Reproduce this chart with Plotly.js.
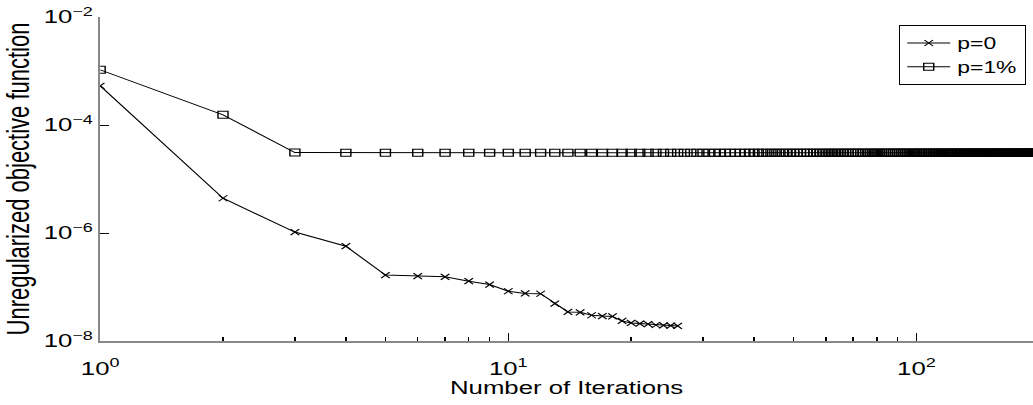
<!DOCTYPE html>
<html>
<head>
<meta charset="utf-8">
<script src="https://cdn.plot.ly/plotly-3.0.1.min.js"></script>
<style>
  html, body { margin: 0; padding: 0; background: #fff; overflow: hidden; }
  #chart { width: 722px; height: 405px; transform: scaleX(1.43075); transform-origin: 0 0; }
</style>
</head>
<body>
<div id="chart"></div>
<script>
// Series names
const seriesNames = ["p=0", "p=1%"];

// Unregularized objective function, iterations start at 1
const valuesP0 = [5.3e-4, 4.4e-6, 1.04e-6, 5.7e-7, 1.66e-7, 1.59e-7, 1.54e-7, 1.28e-7, 1.11e-7, 8.35e-8,
  7.6e-8, 7.5e-8, 4.94e-8, 3.45e-8, 3.4e-8, 3.0e-8, 2.9e-8, 2.85e-8, 2.35e-8, 2.16e-8,
  2.1e-8, 2.05e-8, 1.98e-8, 1.95e-8, 1.92e-8, 1.9e-8];

const valuesP1 = [1.05e-3, 1.54e-4, 3.08e-5,
  3.05e-5, 3.05e-5, 3.05e-5, 3.05e-5, 3.05e-5, 3.05e-5, 3.05e-5, 3.05e-5, 3.05e-5, 3.05e-5,
  3.05e-5, 3.05e-5, 3.05e-5, 3.05e-5, 3.05e-5, 3.05e-5, 3.05e-5, 3.05e-5, 3.05e-5, 3.05e-5,
  3.05e-5, 3.05e-5, 3.05e-5, 3.05e-5, 3.05e-5, 3.05e-5, 3.05e-5, 3.05e-5, 3.05e-5, 3.05e-5,
  3.05e-5, 3.05e-5, 3.05e-5, 3.05e-5, 3.05e-5, 3.05e-5, 3.05e-5, 3.05e-5, 3.05e-5, 3.05e-5,
  3.05e-5, 3.05e-5, 3.05e-5, 3.05e-5, 3.05e-5, 3.05e-5, 3.05e-5, 3.05e-5, 3.05e-5, 3.05e-5,
  3.05e-5, 3.05e-5, 3.05e-5, 3.05e-5, 3.05e-5, 3.05e-5, 3.05e-5, 3.05e-5, 3.05e-5, 3.05e-5,
  3.05e-5, 3.05e-5, 3.05e-5, 3.05e-5, 3.05e-5, 3.05e-5, 3.05e-5, 3.05e-5, 3.05e-5, 3.05e-5,
  3.05e-5, 3.05e-5, 3.05e-5, 3.05e-5, 3.05e-5, 3.05e-5, 3.05e-5, 3.05e-5, 3.05e-5, 3.05e-5,
  3.05e-5, 3.05e-5, 3.05e-5, 3.05e-5, 3.05e-5, 3.05e-5, 3.05e-5, 3.05e-5, 3.05e-5, 3.05e-5,
  3.05e-5, 3.05e-5, 3.05e-5, 3.05e-5, 3.05e-5, 3.05e-5, 3.05e-5, 3.05e-5, 3.05e-5, 3.05e-5,
  3.05e-5, 3.05e-5, 3.05e-5, 3.05e-5, 3.05e-5, 3.05e-5, 3.05e-5, 3.05e-5, 3.05e-5, 3.05e-5,
  3.05e-5, 3.05e-5, 3.05e-5, 3.05e-5, 3.05e-5, 3.05e-5, 3.05e-5, 3.05e-5, 3.05e-5, 3.05e-5,
  3.05e-5, 3.05e-5, 3.05e-5, 3.05e-5, 3.05e-5, 3.05e-5, 3.05e-5, 3.05e-5, 3.05e-5, 3.05e-5,
  3.05e-5, 3.05e-5, 3.05e-5, 3.05e-5, 3.05e-5, 3.05e-5, 3.05e-5, 3.05e-5, 3.05e-5, 3.05e-5,
  3.05e-5, 3.05e-5, 3.05e-5, 3.05e-5, 3.05e-5, 3.05e-5, 3.05e-5, 3.05e-5, 3.05e-5, 3.05e-5,
  3.05e-5, 3.05e-5, 3.05e-5, 3.05e-5, 3.05e-5, 3.05e-5, 3.05e-5, 3.05e-5, 3.05e-5, 3.05e-5,
  3.05e-5, 3.05e-5, 3.05e-5, 3.05e-5, 3.05e-5, 3.05e-5, 3.05e-5, 3.05e-5, 3.05e-5, 3.05e-5,
  3.05e-5, 3.05e-5, 3.05e-5, 3.05e-5, 3.05e-5, 3.05e-5, 3.05e-5, 3.05e-5, 3.05e-5, 3.05e-5,
  3.05e-5, 3.05e-5, 3.05e-5, 3.05e-5, 3.05e-5, 3.05e-5, 3.05e-5, 3.05e-5, 3.05e-5, 3.05e-5,
  3.05e-5, 3.05e-5, 3.05e-5, 3.05e-5, 3.05e-5, 3.05e-5, 3.05e-5];

// Axis ticks and labels
const xTickVals = [1, 10, 100];
const xTickText = ["10<sup>0</sup>", "10<sup>1</sup>", "10<sup>2</sup>"];
const xMinorTicks = [2, 3, 4, 5, 6, 7, 8, 9, 20, 30, 40, 50, 60, 70, 80, 90];
const yTickVals = [1e-8, 1e-6, 1e-4, 1e-2];
const yTickText = ["10<sup>\u22128</sup>", "10<sup>\u22126</sup>", "10<sup>\u22124</sup>", "10<sup>\u22122</sup>"];

const FONT = "'Liberation Sans', Arial, Helvetica, sans-serif";
const X_RANGE = [0, 2.2856];

const traces = [
  {
    name: seriesNames[0],
    y: valuesP0, x0: 1, dx: 1,
    type: "scatter", mode: "lines+markers",
    line: { color: "#000", width: 1 },
    marker: { symbol: "x-thin-open", size: 6, color: "#000", line: { color: "#000", width: 1 } }
  },
  {
    name: seriesNames[1],
    y: valuesP1, x0: 1, dx: 1,
    type: "scatter", mode: "lines+markers",
    line: { color: "#000", width: 1 },
    marker: { symbol: "square-open", size: 7, color: "#000", line: { color: "#000", width: 1 } }
  },
  { x: [], y: [], xaxis: "x2", yaxis: "y", type: "scatter", mode: "lines", showlegend: false, hoverinfo: "skip" }
];

const layout = {
  width: 722, height: 405,
  margin: { l: 70, r: 0, t: 17, b: 64, pad: 0 },
  paper_bgcolor: "#fff", plot_bgcolor: "#fff",
  font: { family: FONT, color: "#000", size: 18 },
  showlegend: true,
  legend: {
    x: 0.9925, xanchor: "right", y: 0.975, yanchor: "top",
    bgcolor: "#fff", bordercolor: "#000", borderwidth: 1,
    font: { family: FONT, size: 16, color: "#000" },
    tracegroupgap: 0
  },
  xaxis: {
    type: "log",
    range: X_RANGE,
    tickmode: "array", tickvals: xTickVals, ticktext: xTickText,
    showticklabels: false,
    ticks: "inside", ticklen: 8, tickwidth: 1, tickcolor: "#000",
    minor: { tickmode: "array", tickvals: xMinorTicks, ticks: "inside", ticklen: 4, tickwidth: 1, tickcolor: "#000", showgrid: false },
    showgrid: false, zeroline: false,
    showline: true, linecolor: "#888", linewidth: 2, mirror: false,
    title: { text: "Number of Iterations", font: { family: FONT, size: 18, color: "#000" }, standoff: 39 }
  },
  xaxis2: {
    type: "log",
    range: X_RANGE,
    overlaying: "x", anchor: "y", side: "bottom",
    tickmode: "array", tickvals: xTickVals, ticktext: xTickText,
    ticks: "outside", ticklen: 11, tickcolor: "rgba(0,0,0,0)",
    showgrid: false, zeroline: false, showline: false,
    tickfont: { family: FONT, size: 18, color: "#000" }
  },
  yaxis: {
    type: "log",
    range: [-8, -2],
    tickmode: "array", tickvals: yTickVals, ticktext: yTickText,
    ticks: "inside", ticklen: 6, tickwidth: 1, tickcolor: "#000",
    showgrid: false, zeroline: false,
    showline: true, linecolor: "#888", linewidth: 1.5, mirror: false,
    tickfont: { family: FONT, size: 18, color: "#000" },
    title: { text: "Unregularized objective function", font: { family: FONT, size: 22, color: "#000" }, standoff: 4 }
  }
};

Plotly.newPlot("chart", traces, layout, { displayModeBar: false, staticPlot: true });
</script>
</body>
</html>
